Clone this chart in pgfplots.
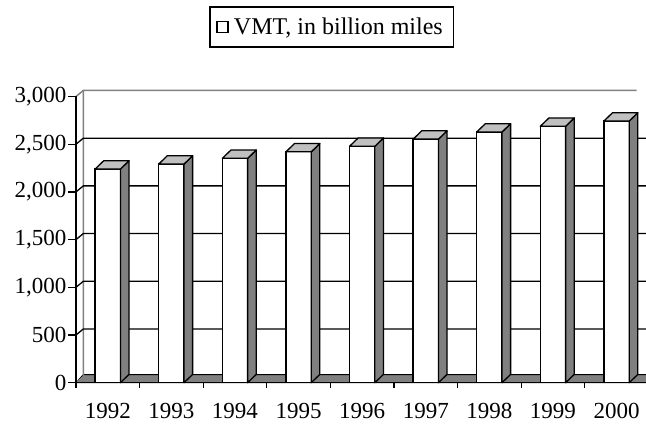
\documentclass[border=0pt]{standalone}
\usepackage{pgfplots}
\usepackage{pgfplotstable}
\pgfplotsset{compat=1.18}
\usepackage{fontspec}
\setmainfont{Liberation Serif}
\definecolor{sidegray}{HTML}{808080}
\definecolor{topgray}{HTML}{C0C0C0}
\definecolor{wallgray}{HTML}{808080}

\pgfplotstableread{
x y
0 2240
1 2292
2 2352
3 2420
4 2478
5 2553
6 2628
7 2688
8 2743
}\vmt

\pgfdeclareplotmark{prism}{%
  \pgfmathsetmacro\hh{\rawy*0.0954}%
  \pgfsetlinewidth{1.3pt}%
  \pgfsetstrokecolor{black}%
  \pgfsetroundjoin
  \pgfsetfillcolor{sidegray}%
  \pgfpathmoveto{\pgfpoint{12.65pt}{0pt}}%
  \pgfpathlineto{\pgfpoint{21.25pt}{8.3pt}}%
  \pgfpathlineto{\pgfpoint{21.25pt}{8.3pt-\hh pt}}%
  \pgfpathlineto{\pgfpoint{12.65pt}{-\hh pt}}%
  \pgfpathclose
  \pgfusepath{fill,stroke}%
  \pgfsetfillcolor{topgray}%
  \pgfpathmoveto{\pgfpoint{-12.65pt}{0pt}}%
  \pgfpathlineto{\pgfpoint{12.65pt}{0pt}}%
  \pgfpathlineto{\pgfpoint{21.25pt}{8.3pt}}%
  \pgfpathlineto{\pgfpoint{-4.05pt}{8.3pt}}%
  \pgfpathclose
  \pgfusepath{fill,stroke}%
}

\begin{document}
\begin{tikzpicture}
\path[use as bounding box] (0,0) rectangle (646pt,-427pt);
\begin{axis}[
  at={(76pt,-382.7pt)}, anchor=south west,
  scale only axis, width=572.4pt, height=286.2pt,
  xmin=-0.5, xmax=8.5, ymin=0, ymax=3000,
  clip=false,
  axis on top,
  axis x line*=bottom, axis y line*=left,
  axis line style={black, line width=1.3pt},
  xtick={0,...,8},
  xticklabels={1992,1993,1994,1995,1996,1997,1998,1999,2000},
  minor xtick={-0.5,0.5,...,8.5},
  major x tick style={draw=none},
  minor x tick style={black, line width=1.3pt},
  minor tick length=5pt,
  ytick={0,500,...,3000},
  major tick length=8pt,
  y tick style={black, line width=1.3pt},
  tick align=outside,
  tick label style={font=\fontsize{23}{27}\selectfont},
  yticklabel style={inner xsep=1.5pt},
  xticklabel style={anchor=north, yshift=-9pt},
  /pgf/number format/assume math mode=true,
  /pgf/number format/1000 sep={,},
  legend style={at={(0.4472,1.2428)}, anchor=center, draw=black, line width=1.3pt,
    font=\fontsize{24}{28}\selectfont, inner xsep=6pt, inner ysep=9pt},
  legend cell align=left,
]
% floor
\filldraw[fill=sidegray, draw=black, line width=1pt]
  (axis cs:-0.5,0) -- ([shift={(7.3pt,8pt)}]axis cs:-0.5,0)
  -- ([shift={(7.3pt,8pt)}]axis cs:8.5,0) -- (axis cs:8.5,0) -- cycle;
% walls
\draw[wallgray, line width=1.5pt]
  (axis cs:-0.5,0) -- ([shift={(7.3pt,6pt)}]axis cs:-0.5,0)
  -- ([shift={(7.3pt,6pt)}]axis cs:-0.5,3000)
  -- ([shift={(7.3pt,6pt)}]axis cs:8.2,3000);
\draw[wallgray, line width=1.5pt]
  (axis cs:-0.5,3000) -- ([shift={(7.3pt,6pt)}]axis cs:-0.5,3000);
% gridlines on walls
\pgfplotsinvokeforeach{500,1000,1500,2000,2500}{
  \draw[black, line width=1.3pt] (axis cs:-0.5,#1)
    -- ([shift={(7.3pt,6pt)}]axis cs:-0.5,#1)
    -- ([shift={(7.3pt,6pt)}]axis cs:8.5,#1);
}
\addplot[forget plot, only marks, mark=prism, mark options={draw=black},
  visualization depends on=rawy\as\rawy] table[x=x, y=y] {\vmt};
\addplot[ybar, bar width=25.3pt, bar shift=0pt, fill=white, draw=black,
  line width=1.3pt,
  legend image code/.code={\draw[black, line width=1.8pt, fill=white]
    (0pt,-5.5pt) rectangle (11pt,5.5pt);}]
  table[x=x, y=y] {\vmt};
\addlegendentry{\hspace*{3pt}VMT, in billion miles\hspace*{3pt}}
\end{axis}
\end{tikzpicture}
\end{document}
